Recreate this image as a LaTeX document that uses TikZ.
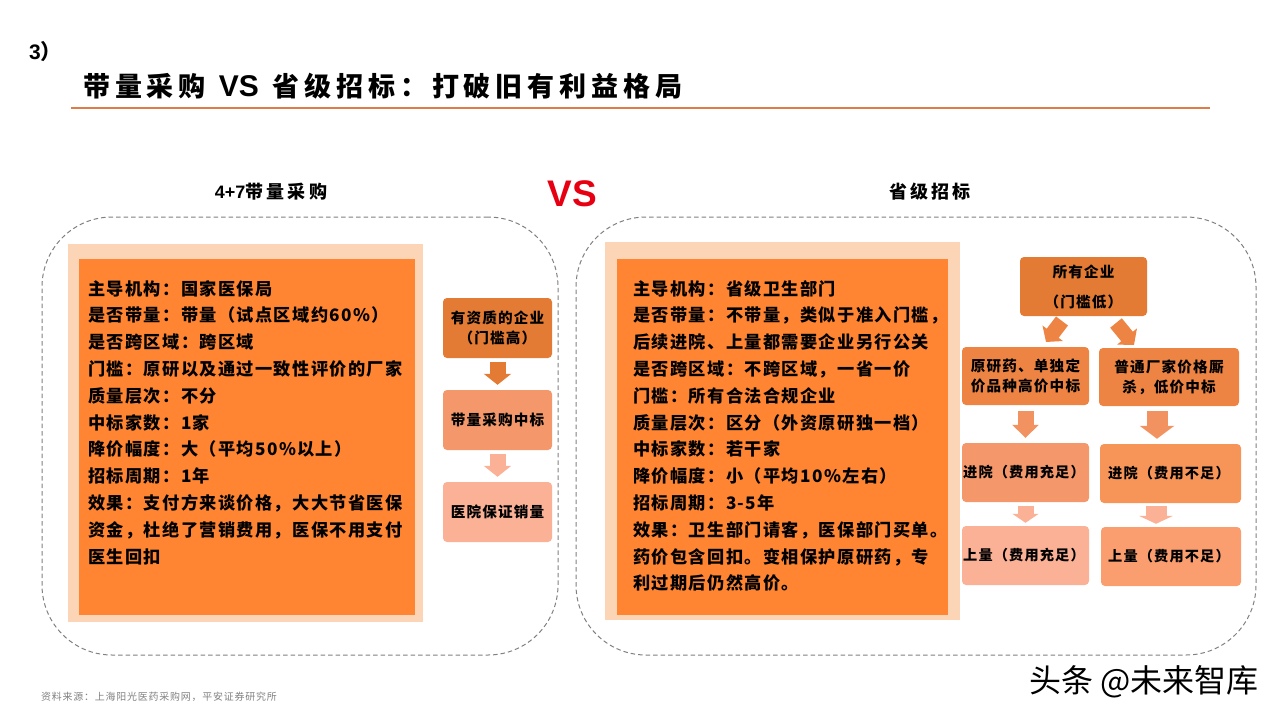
\documentclass[tikz,border=0pt]{standalone}
\usepackage{fontspec}
\usetikzlibrary{arrows.meta}
\setmainfont{Noto Sans CJK SC}
\newfontfamily\bodyfont[LetterSpace=8]{Noto Sans CJK SC}
\newfontfamily\titlefont[LetterSpace=18]{Noto Sans CJK SC}
\newfontfamily\latinfont{Liberation Sans}
\definecolor{rulecol}{HTML}{E07A47}
\definecolor{peachcol}{HTML}{FBD5B5}
\definecolor{orangecol}{HTML}{FF8533}
\definecolor{darkcol}{HTML}{E37B35}
\definecolor{midcol}{HTML}{EE8443}
\definecolor{softcol}{HTML}{F4986C}
\definecolor{palecol}{HTML}{FBB196}
\definecolor{warmcol}{HTML}{F79558}
\definecolor{warmpale}{HTML}{FB9E6F}
\definecolor{vscol}{HTML}{E60012}
\tikzset{
  panel/.style={draw=black!50,dash pattern=on 4.5pt off 3pt,line width=1pt,rounded corners=70pt},
  outerbox/.style={fill=peachcol,inner sep=0pt},
  innerbox/.style={fill=orangecol,inner sep=0pt},
  listtext/.style={anchor=north west,inner sep=0pt,align=left,font=\bodyfont\bfseries\fontsize{17.2}{26.8}\selectfont},
  flowbox/.style={rounded corners=4pt,inner sep=0pt,align=center,font=\bodyfont\bfseries\fontsize{14.6}{20}\selectfont},
  smallflow/.style={flowbox,font=\bodyfont\bfseries\fontsize{14.2}{20}\selectfont},
  blockarrow/.style={-{Triangle[length=11pt,width=27pt]},line width=16pt,shorten <=4pt,shorten >=5pt},
  bigarrow/.style={-{Triangle[length=13pt,width=34pt]},line width=21pt,shorten <=5pt,shorten >=5pt},
  heading/.style={font=\titlefont\bfseries\fontsize{18}{20}\selectfont}
}
\begin{document}
\begin{tikzpicture}[x=1pt,y=-1pt]
      \useasboundingbox (0,0) rectangle (1280,720);
      \node (pageno) [anchor=west,inner sep=0pt,font=\bfseries\fontsize{21}{24}\selectfont] at (29,52) {{\latinfont 3}）};
      \node (title) [anchor=west,inner sep=0pt,font=\titlefont\bfseries\fontsize{27}{30}\selectfont] at (83,86)
        {带量采购\hspace{13pt}{\latinfont\fontsize{30}{30}\selectfont VS}\hspace{14pt}省级招标：打破旧有利益格局};
      \coordinate (rulea) at (71,108);
      \coordinate (ruleb) at (1210,108);
      \draw [rulecol,line width=2pt] (rulea) -- (ruleb);
      \node (lefthead) [heading] at (271,192) {{\latinfont 4+7}带量采购};
      \node (righthead) [heading] at (930,192) {省级招标};
      \node (vs) [text=vscol,font=\latinfont\bfseries\fontsize{37}{40}\selectfont] at (572,194) {VS};
      \node (leftpanel) [panel,minimum width=516pt,minimum height=438pt] at (300,436) {};
      \node (rightpanel) [panel,minimum width=680pt,minimum height=438pt] at (916,436) {};
      \node (leftouter) [outerbox,minimum width=355pt,minimum height=378pt] at (245.5,433) {};
      \node (leftinner) [innerbox,minimum width=336pt,minimum height=356pt] at (247,437) {};
      \node (rightouter) [outerbox,minimum width=355pt,minimum height=378pt] at (782.5,431) {};
      \node (rightinner) [innerbox,minimum width=331pt,minimum height=356pt] at (782.5,437) {};
      \node (lefttext) [listtext] at (88,280) {主导机构：国家医保局\\
        是否带量：带量（试点区域约60\%）\\
        是否跨区域：跨区域\\
        门槛：原研以及通过一致性评价的厂家\\
        质量层次：不分\\
        中标家数：1家\\
        降价幅度：大（平均50\%以上）\\
        招标周期：1年\\
        效果：支付方来谈价格，大大节省医保\\
        资金，杜绝了营销费用，医保不用支付\\
        医生回扣};
      \node (righttext) [listtext] at (633,280) {主导机构：省级卫生部门\\
        是否带量：不带量，类似于准入门槛，\\
        后续进院、上量都需要企业另行公关\\
        是否跨区域：不跨区域，一省一价\\
        门槛：所有合法合规企业\\
        质量层次：区分（外资原研独一档）\\
        中标家数：若干家\\
        降价幅度：小（平均10\%左右）\\
        招标周期：3-5年\\
        效果：卫生部门请客，医保部门买单。\\
        药价包含回扣。变相保护原研药，专\\
        利过期后仍然高价。};
      \node (firma) [flowbox,fill=darkcol,minimum width=109pt,minimum height=60pt] at (497.5,328) {有资质的企业\\（门槛高）};
      \node (wina) [flowbox,fill=softcol,minimum width=109pt,minimum height=60pt] at (497.5,420) {带量采购中标};
      \node (sella) [flowbox,fill=palecol,minimum width=109pt,minimum height=60pt] at (497.5,512) {医院保证销量};
      \draw [blockarrow,darkcol] (firma) -- (wina);
      \draw [blockarrow,palecol] (wina) -- (sella);
      \node (firmb) [flowbox,fill=darkcol,minimum width=127pt,minimum height=59pt,font=\bodyfont\bfseries\fontsize{14.6}{30}\selectfont] at (1083.5,286.5) {所有企业\\（门槛低）};
      \node (orig) [flowbox,fill=midcol,minimum width=127pt,minimum height=58pt] at (1025.5,376) {原研药、单独定\\价品种高价中标};
      \node (plain) [flowbox,fill=midcol,minimum width=140pt,minimum height=58pt] at (1169,377) {普通厂家价格厮\\杀，低价中标};
      \node (hospa) [smallflow,fill=softcol,minimum width=127pt,minimum height=59pt] at (1025.5,472.5) {进院（费用充足）\hspace{3pt}};
      \node (hospb) [smallflow,fill=warmcol,minimum width=141pt,minimum height=59pt] at (1170.5,473.5) {进院（费用不足）\hspace{3pt}};
      \node (vola) [smallflow,fill=palecol,minimum width=127pt,minimum height=59pt] at (1025.5,555.5) {上量（费用充足）\hspace{3pt}};
      \node (volb) [smallflow,fill=warmpale,minimum width=140pt,minimum height=59pt] at (1171,556.5) {上量（费用不足）\hspace{4pt}};
      \coordinate (taila) at (1062,321);
      \coordinate (tipa) at (1046,342);
      \coordinate (tailb) at (1116,323);
      \coordinate (tipb) at (1134,345);
      \draw [blockarrow,midcol,line width=15pt,shorten <=0pt,shorten >=0pt,-{Triangle[length=11pt,width=25pt]}] (taila) -- (tipa);
      \draw [blockarrow,midcol,line width=15pt,shorten <=0pt,shorten >=0pt,-{Triangle[length=11pt,width=25pt]}] (tailb) -- (tipb);
      \draw [blockarrow,softcol!70!midcol,-{Triangle[length=13pt,width=26pt]},shorten <=6pt] (orig) -- (hospa);
      \draw [bigarrow,softcol!70!midcol] ([xshift=-12pt]plain.south) -- ([xshift=-13.5pt]hospb.north);
      \draw [blockarrow,palecol,-{Triangle[length=9pt,width=26pt]},shorten >=3pt] (hospa) -- (vola);
      \draw [bigarrow,palecol,-{Triangle[length=8pt,width=34pt]},shorten <=3pt,shorten >=3pt] ([xshift=-14.5pt]hospb.south) -- ([xshift=-15pt]volb.north);
      \node (source) [anchor=west,inner sep=0pt,text=black!50,font=\bodyfont\fontsize{9.95}{11}\selectfont] at (41,697) {资料来源：上海阳光医药采购网，平安证券研究所};
      \node (mark) [anchor=east,inner sep=0pt,font=\fontsize{32}{34}\selectfont] at (1259,682) {头条 @未来智库};
    \end{tikzpicture}
\end{document}
